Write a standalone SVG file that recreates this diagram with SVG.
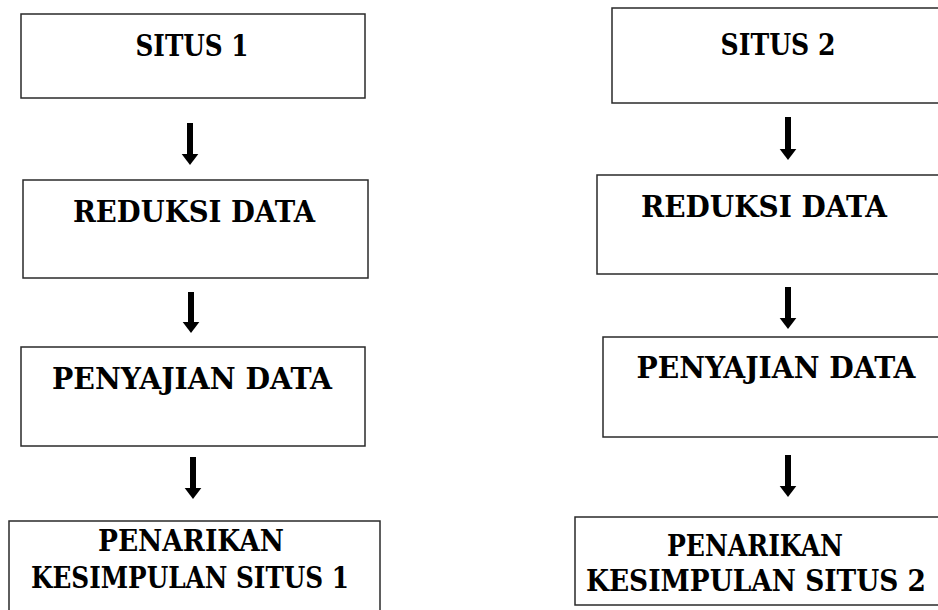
<svg xmlns="http://www.w3.org/2000/svg" width="938" height="610" viewBox="0 0 938 610">
<style>
.box{fill:#fff;stroke:#2a2a2a;stroke-width:1.5}
.t{font-family:'DejaVu Serif','Liberation Serif',serif;font-weight:700;font-size:30px;fill:#000;text-anchor:middle}
.c{stroke:#000;stroke-width:6;fill:none}
</style>
<defs>
<marker id="ah" markerUnits="userSpaceOnUse" markerWidth="20" markerHeight="20" refX="1" refY="0" orient="auto" viewBox="-1 -9 12 18" overflow="visible">
<path d="M0,-7.5 L10,0 L0,7.5 Z" fill="#000"/>
</marker>
</defs>
<rect width="938" height="610" fill="#fff"/>
<g id="connectors">
<line class="c" x1="190" y1="123" x2="190" y2="155" marker-end="url(#ah)"/>
<line class="c" x1="191" y1="292" x2="191" y2="323" marker-end="url(#ah)"/>
<line class="c" x1="193" y1="457" x2="193" y2="489" marker-end="url(#ah)"/>
<line class="c" x1="788" y1="117" x2="788" y2="150" marker-end="url(#ah)"/>
<line class="c" x1="788" y1="287" x2="788" y2="319" marker-end="url(#ah)"/>
<line class="c" x1="788" y1="455" x2="788" y2="487" marker-end="url(#ah)"/>
</g>
<g id="situs1">
<rect class="box" x="21" y="14" width="344" height="84"/>
<text class="t" x="192" y="56" textLength="113" lengthAdjust="spacingAndGlyphs">SITUS 1</text>
</g>
<g id="reduksi1">
<rect class="box" x="23" y="180" width="345" height="98"/>
<text class="t" x="194" y="222" textLength="242" lengthAdjust="spacingAndGlyphs">REDUKSI DATA</text>
</g>
<g id="penyajian1">
<rect class="box" x="21" y="347" width="344" height="99"/>
<text class="t" x="192" y="389" textLength="280" lengthAdjust="spacingAndGlyphs">PENYAJIAN DATA</text>
</g>
<g id="penarikan1">
<rect class="box" x="9" y="521" width="371" height="100"/>
<text class="t" x="191" y="551" textLength="186" lengthAdjust="spacingAndGlyphs">PENARIKAN</text>
<text class="t" x="190" y="588" textLength="318" lengthAdjust="spacingAndGlyphs">KESIMPULAN SITUS 1</text>
</g>
<g id="situs2">
<rect class="box" x="612" y="8" width="340" height="95"/>
<text class="t" x="778" y="55" textLength="115" lengthAdjust="spacingAndGlyphs">SITUS 2</text>
</g>
<g id="reduksi2">
<rect class="box" x="597" y="175" width="355" height="99"/>
<text class="t" x="764" y="217" textLength="246" lengthAdjust="spacingAndGlyphs">REDUKSI DATA</text>
</g>
<g id="penyajian2">
<rect class="box" x="603" y="337" width="349" height="100"/>
<text class="t" x="776" y="378" textLength="279" lengthAdjust="spacingAndGlyphs">PENYAJIAN DATA</text>
</g>
<g id="penarikan2">
<rect class="box" x="575" y="517" width="377" height="88"/>
<text class="t" x="755" y="556" textLength="176" lengthAdjust="spacingAndGlyphs">PENARIKAN</text>
<text class="t" x="756" y="591" textLength="340" lengthAdjust="spacingAndGlyphs">KESIMPULAN SITUS 2</text>
</g>
</svg>
